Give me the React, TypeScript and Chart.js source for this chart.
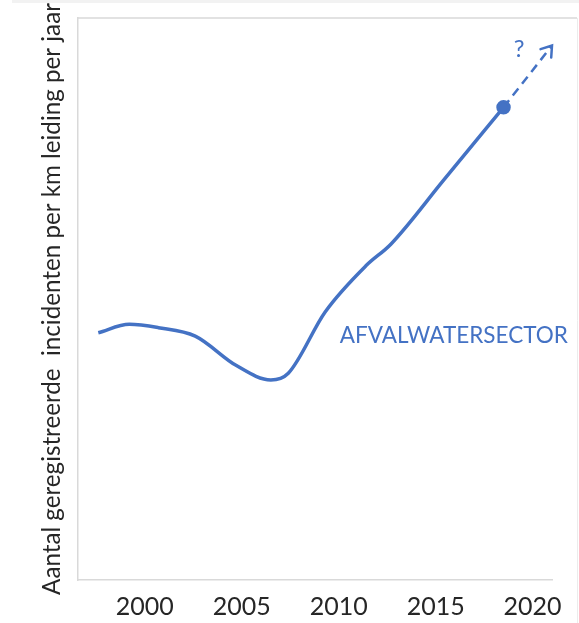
import React, { useEffect, useRef } from "react";
import { Chart, registerables } from "chart.js";

Chart.register(...registerables);

const years = [1997.6, 1999.2, 2000.7, 2002.6, 2004.7, 2006.5, 2007.4, 2009.3, 2011.4, 2012.7, 2015.4, 2018.5];
const values = [44.0, 45.5, 44.9, 43.4, 38.2, 35.6, 36.8, 47.7, 55.9, 59.8, 71.1, 84.1];
const projectionYears = [2018.5, 2021.0];
const projectionValues = [84.1, 95.1];
const xTicks = [2000, 2005, 2010, 2015, 2020];
const yTitle = "Aantal geregistreerde  incidenten per km leiding per jaar";
const seriesLabel = "AFVALWATERSECTOR";
const seriesLabelPos = { x: 2010.05, y: 43.5 };
const questionLabel = "?";
const questionPos = { x: 2019.3, y: 94.5 };

const BLUE = "#4472C4";
const AXIS = "#d9d9d9";
const FONT = "Lato, 'Open Sans', sans-serif";

const annotations = {
  id: "annotations",
  afterDatasetsDraw(chart: any) {
    const { ctx, chartArea, scales } = chart;
    const xs = scales.x;
    const ys = scales.y;
    ctx.save();
    // frame lines
    ctx.strokeStyle = AXIS;
    ctx.lineWidth = 1.5;
    ctx.beginPath();
    ctx.moveTo(chartArea.left, chartArea.top);
    ctx.lineTo(chart.width - 2, chartArea.top);
    ctx.stroke();
    ctx.strokeStyle = "#ececec";
    ctx.lineWidth = 1;
    ctx.beginPath();
    ctx.moveTo(chart.width - 1.5, chartArea.top);
    ctx.lineTo(chart.width - 1.5, chart.height);
    ctx.stroke();
    ctx.fillStyle = "#f2f2f2";
    ctx.fillRect(12, 0, chart.width - 12, 3);

    // arrowhead on projection
    const meta = chart.getDatasetMeta(1);
    const p0 = meta.data[0];
    const p1 = meta.data[meta.data.length - 1];
    const ang = Math.atan2(p1.y - p0.y, p1.x - p0.x);
    const L = 12;
    ctx.strokeStyle = BLUE;
    ctx.lineWidth = 2.5;
    ctx.lineCap = "round";
    ctx.beginPath();
    ctx.moveTo(p1.x - L * Math.cos(ang - 0.6), p1.y - L * Math.sin(ang - 0.6));
    ctx.lineTo(p1.x, p1.y);
    ctx.lineTo(p1.x - L * Math.cos(ang + 0.6), p1.y - L * Math.sin(ang + 0.6));
    ctx.stroke();

    // labels
    ctx.fillStyle = BLUE;
    ctx.font = `22.5px ${FONT}`;
    ctx.textAlign = "left";
    ctx.textBaseline = "middle";
    ctx.fillText(seriesLabel, xs.getPixelForValue(seriesLabelPos.x), ys.getPixelForValue(seriesLabelPos.y));
    ctx.font = `24px ${FONT}`;
    ctx.textAlign = "center";
    ctx.fillText(questionLabel, xs.getPixelForValue(questionPos.x), ys.getPixelForValue(questionPos.y));
    ctx.restore();
  },
};

export default function App() {
  const ref = useRef<HTMLCanvasElement>(null);
  useEffect(() => {
    document.body.style.margin = "0";
    const canvas = ref.current!;
    const chart = new Chart(canvas, {
      type: "line",
      data: {
        datasets: [
          {
            data: years.map((x, i) => ({ x, y: values[i] })),
            borderColor: BLUE,
            backgroundColor: BLUE,
            borderWidth: 3.5,
            cubicInterpolationMode: "monotone",
            pointRadius: (c: any) => (c.dataIndex === years.length - 1 ? 5.5 : 0),
            pointHoverRadius: 0,
            clip: false as any,
          },
          {
            data: projectionYears.map((x, i) => ({ x, y: projectionValues[i] })),
            borderColor: BLUE,
            borderWidth: 2.5,
            borderDash: [9, 6],
            pointRadius: 0,
            clip: false as any,
          },
        ],
      },
      options: {
        responsive: false,
        animation: false,
        layout: { padding: { left: 10, right: 27, top: 18, bottom: 0 } },
        plugins: { legend: { display: false }, tooltip: { enabled: false } },
        scales: {
          x: {
            type: "linear",
            min: 1996.55,
            max: 2021.0,
            afterBuildTicks: (s: any) => {
              s.ticks = xTicks.map((v) => ({ value: v }));
            },
            afterFit: (s: any) => {
              s.height = 43;
            },
            grid: { display: false, drawTicks: false },
            border: { color: AXIS, width: 1.5 },
            ticks: {
              color: "#262626",
              font: { family: FONT, size: 25 },
              padding: 12,
              maxRotation: 0,
              callback: (v: any) => String(v),
            },
          },
          y: {
            min: 0,
            max: 100,
            grid: { display: false, drawTicks: false },
            border: { color: AXIS, width: 1.5 },
            ticks: { display: false },
            title: {
              display: true,
              text: yTitle,
              color: "#262626",
              font: { family: FONT, size: 24.2 },
              padding: { top: 28, bottom: 10.9 },
            },
          },
        },
      },
      plugins: [annotations],
    });
    return () => chart.destroy();
  }, []);
  return <canvas ref={ref} width={579} height={623} style={{ display: "block" }} />;
}
